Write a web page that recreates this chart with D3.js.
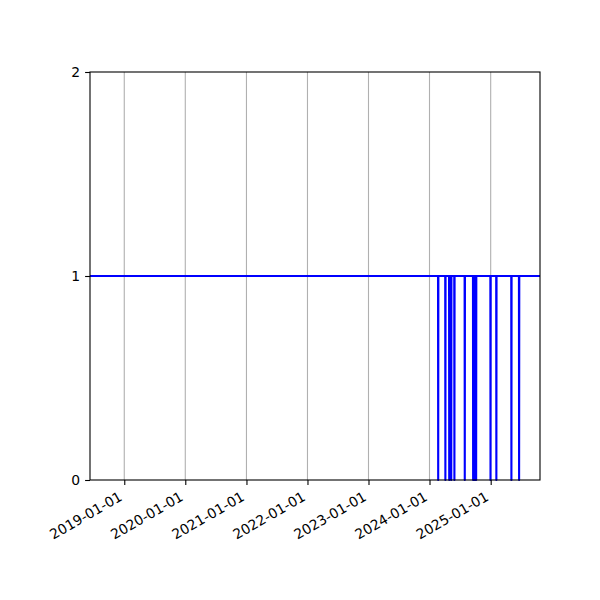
<!DOCTYPE html>
<html>
<head>
<meta charset="utf-8">
<script src="https://cdn.jsdelivr.net/npm/d3@7"></script>
<style>
  html, body { margin: 0; padding: 0; background: #fff; }
  svg { display: block; }
  text { font-family: "DejaVu Sans", sans-serif; font-size: 13.9px; fill: #000; }
</style>
</head>
<body>
<svg id="chart" width="600" height="600"></svg>
<script>
const xDomain = ["2018-06-10", "2025-10-23"];
const xTickLabels = ["2019-01-01", "2020-01-01", "2021-01-01", "2022-01-01", "2023-01-01", "2024-01-01", "2025-01-01"];
const yTickValues = [0, 1, 2];
const seriesDates = [
  "2018-06-10",
  "2024-02-21", "2024-02-22", "2024-02-23",
  "2024-04-04", "2024-04-05", "2024-04-06",
  "2024-04-27", "2024-04-28", "2024-04-29",
  "2024-05-09", "2024-05-10", "2024-05-11",
  "2024-05-28", "2024-05-29", "2024-05-30",
  "2024-07-29", "2024-07-30", "2024-07-31",
  "2024-09-17", "2024-09-18", "2024-09-19",
  "2024-09-26", "2024-09-27", "2024-09-28",
  "2024-10-05", "2024-10-06", "2024-10-07",
  "2024-12-30", "2024-12-31", "2025-01-01",
  "2025-02-03", "2025-02-04", "2025-02-05",
  "2025-05-04", "2025-05-05", "2025-05-06",
  "2025-06-19", "2025-06-20", "2025-06-21",
  "2025-10-23"
];
const seriesValues = [
  1,
  1, 0, 1,
  1, 0, 1,
  1, 0, 1,
  1, 0, 1,
  1, 0, 1,
  1, 0, 1,
  1, 0, 1,
  1, 0, 1,
  1, 0, 1,
  1, 0, 1,
  1, 0, 1,
  1, 0, 1,
  1, 0, 1,
  1
];

(function () {
const parse = d3.utcParse("%Y-%m-%d");
const svg = d3.select("#chart");
const mLeft = 90, mRight = 540, mTop = 72, mBottom = 480;

const x = d3.scaleUtc().domain(xDomain.map(parse)).range([mLeft, mRight]);
const y = d3.scaleLinear().domain([0, 2]).range([mBottom, mTop]);

const tickDates = xTickLabels.map(parse);

// grid lines
svg.append("g").selectAll("line").data(tickDates).join("line")
  .attr("x1", d => x(d)).attr("x2", d => x(d))
  .attr("y1", mTop).attr("y2", mBottom)
  .attr("stroke", "#b0b0b0").attr("stroke-width", 1.1);

// clip
svg.append("defs").append("clipPath").attr("id", "clip")
  .append("rect").attr("x", mLeft).attr("y", mTop - 2).attr("width", mRight - mLeft).attr("height", mBottom - mTop + 4);

const pts = seriesDates.map((d, i) => [parse(d), seriesValues[i]]);
const line = d3.line().x(d => x(d[0])).y(d => y(d[1]));
svg.append("path").datum(pts)
  .attr("clip-path", "url(#clip)")
  .attr("d", line)
  .attr("fill", "none")
  .attr("stroke", "#0000ff")
  .attr("stroke-width", 2.1)
  .attr("stroke-linejoin", "round");

// x axis
const xAxis = d3.axisBottom(x).tickValues(tickDates).tickSize(4.9).tickPadding(3)
  .tickFormat((d, i) => xTickLabels[i]);
const gx = svg.append("g").attr("transform", `translate(0,${mBottom})`).call(xAxis);
gx.select(".domain").remove();
gx.selectAll(".tick line").attr("stroke", "#000").attr("stroke-width", 1.1);
gx.selectAll(".tick text")
  .attr("font-family", "DejaVu Sans").attr("font-size", 13.9)
  .attr("text-anchor", "end")
  .attr("dy", null)
  .attr("y", null)
  .attr("transform", "translate(-1.5,19.5) rotate(-30)");

// y axis
const yAxis = d3.axisLeft(y).tickValues(yTickValues).tickSize(4.9).tickPadding(4.9).tickFormat(d3.format("d"));
const gy = svg.append("g").attr("transform", `translate(${mLeft},0)`).call(yAxis);
gy.select(".domain").remove();
gy.selectAll(".tick line").attr("stroke", "#000").attr("stroke-width", 1.1);
gy.selectAll(".tick text").attr("font-family", "DejaVu Sans").attr("font-size", 13.9);

// frame
svg.append("rect").attr("x", mLeft).attr("y", mTop).attr("width", mRight - mLeft).attr("height", mBottom - mTop)
  .attr("fill", "none").attr("stroke", "#000").attr("stroke-width", 1.1);
})();
</script>
</body>
</html>
